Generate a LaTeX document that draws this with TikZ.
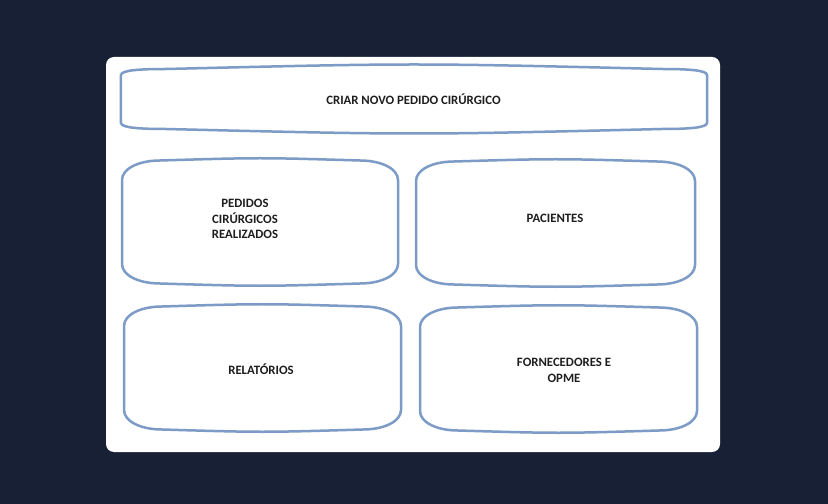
\documentclass[tikz,border=0pt]{standalone}
\usepackage{fontspec}
\setmainfont{Carlito}
\usepackage{tikz}
\usetikzlibrary{calc,positioning}
\definecolor{fundoEscuro}{RGB}{23, 32, 52}
\definecolor{azulContorno}{RGB}{124, 155, 198}
\definecolor{textoEscuro}{RGB}{30, 30, 30}
\tikzstyle{caixa}=[rectangle, inner sep=0pt, outer sep=0pt]
\tikzstyle{linha}=[draw=azulContorno, line width=2.5bp]
\tikzstyle{rotulo}=[font=\bfseries\fontsize{12.8}{15.8}\selectfont,
                    text=textoEscuro, align=center, inner sep=0pt]
% contorno: no, rx, ry, curvatura
\newcommand{\contorno}[4]{%
  \draw[linha] ($(#1.north west)+(0,#3)$)
    .. controls ($(#1.north west)+(0,0.45*#3)$) and ($(#1.north west)+(0.45*#2,#4)$) .. ($(#1.north west)+(#2,#4)$)
    .. controls ($(#1.north)+(0,-#4)$) .. ($(#1.north east)+(-#2,#4)$)
    .. controls ($(#1.north east)+(-0.45*#2,#4)$) and ($(#1.north east)+(0,0.45*#3)$) .. ($(#1.north east)+(0,#3)$)
    -- ($(#1.south east)+(0,-#3)$)
    .. controls ($(#1.south east)+(0,-0.45*#3)$) and ($(#1.south east)+(-0.45*#2,-#4)$) .. ($(#1.south east)+(-#2,-#4)$)
    .. controls ($(#1.south)+(0,#4)$) .. ($(#1.south west)+(#2,-#4)$)
    .. controls ($(#1.south west)+(0.45*#2,-#4)$) and ($(#1.south west)+(0,-0.45*#3)$) .. ($(#1.south west)+(0,-#3)$)
    -- cycle;}

\begin{document}
\begin{tikzpicture}[x=1bp, y=-1bp]

    \fill[fundoEscuro] (0,0) rectangle (828,504);
    \useasboundingbox (0,0) rectangle (828,504);
    \fill[white, rounded corners=8bp] (106,57) rectangle (720,452);

    \draw (414,99) node(topo)[caixa, minimum width=586bp, minimum height=66bp]{};
    \draw (260,222) node(pedidos)[caixa, minimum width=276bp, minimum height=126bp]{};
    \draw (555.5,223) node(pacientes)[caixa, minimum width=279bp, minimum height=126bp]{};
    \draw (262.5,368) node(relatorios)[caixa, minimum width=277bp, minimum height=126bp]{};
    \draw (558.5,369) node(fornecedores)[caixa, minimum width=277bp, minimum height=126bp]{};

    \foreach \nome/\rx/\ry/\bo in {topo/45/9/3, pedidos/38/21/1.5, pacientes/38/21/1.5,
        relatorios/38/21/1.5, fornecedores/38/21/1.5}
        \contorno{\nome}{\rx}{\ry}{\bo};

    \draw (413.5,99.5) node(tCriar)[rotulo]{CRIAR NOVO PEDIDO CIRÚRGICO};
    \draw (245,219) node(tPedidos)[rotulo]{PEDIDOS\\CIRÚRGICOS\\REALIZADOS};
    \draw (555,218) node(tPacientes)[rotulo]{PACIENTES};
    \draw (261,369) node(tRelatorios)[rotulo]{RELATÓRIOS};
    \draw (564,370) node(tFornecedores)[rotulo]{FORNECEDORES E\\OPME};

\end{tikzpicture}
\end{document}
